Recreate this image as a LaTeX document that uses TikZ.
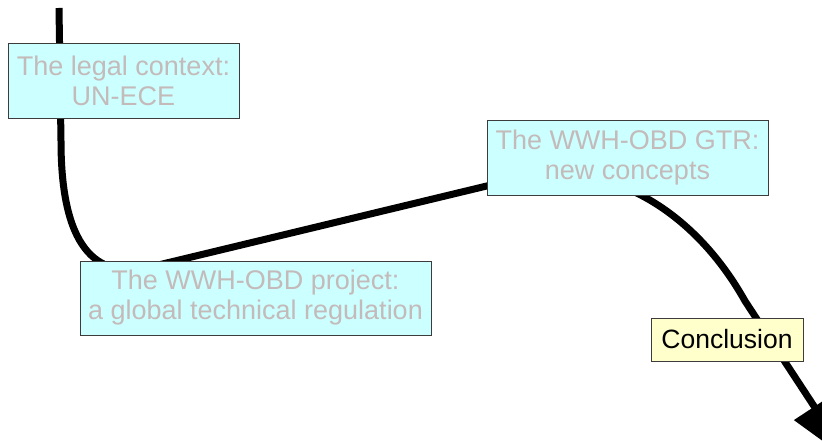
\documentclass[tikz,border=0pt]{standalone}
\usepackage{fontspec}
\setmainfont{Liberation Sans}
\usetikzlibrary{arrows.meta}
\definecolor{boxcyan}{RGB}{204,255,255}
\definecolor{boxyellow}{RGB}{255,255,204}
\definecolor{dimtext}{RGB}{196,186,186}
\definecolor{boxedge}{RGB}{60,60,60}
\tikzset{
  topic/.style={draw=boxedge, line width=0.8pt, fill=boxcyan, text=dimtext,
    align=center, inner sep=0pt,
    font=\fontsize{27}{30}\selectfont},
  current/.style={draw=boxedge, line width=0.8pt, fill=boxyellow, text=black,
    align=center, inner sep=0pt,
    font=\fontsize{26.5}{30}\selectfont},
  road/.style={line width=7pt, -{Triangle[length=65pt,width=47pt]}}
}
\begin{document}
\begin{tikzpicture}[x=1pt,y=1pt]
\useasboundingbox (0,0) rectangle (822,441);
% route points
\coordinate (s0) at (59,433);
\coordinate (s1) at (61,300);
\coordinate (s2) at (150,174);
\coordinate (s3) at (520,263);
\coordinate (s4) at (745,140);
\coordinate (tip) at (850,-20);
% the winding road
\draw[road] (s0) -- (s1)
  .. controls (61,195) and (95,161) .. (s2)
  -- (s3)
  .. controls (600,282) and (690,238) .. (s4)
  -- (tip);
% stations along the road
\node[topic, minimum width=231pt, minimum height=75pt] (legal) at (123.5,360.5)
  {The legal context:\\UN-ECE};
\node[topic, minimum width=351pt, minimum height=74pt] (project) at (255.5,143)
  {The WWH-OBD project:\\a global technical regulation};
\node[topic, minimum width=281pt, minimum height=75pt] (gtr) at (627.5,283.5)
  {The WWH-OBD GTR:\\new concepts};
\node[current, minimum width=152pt, minimum height=43pt] (concl) at (727,101.5)
  {Conclusion};
\end{tikzpicture}
\end{document}
